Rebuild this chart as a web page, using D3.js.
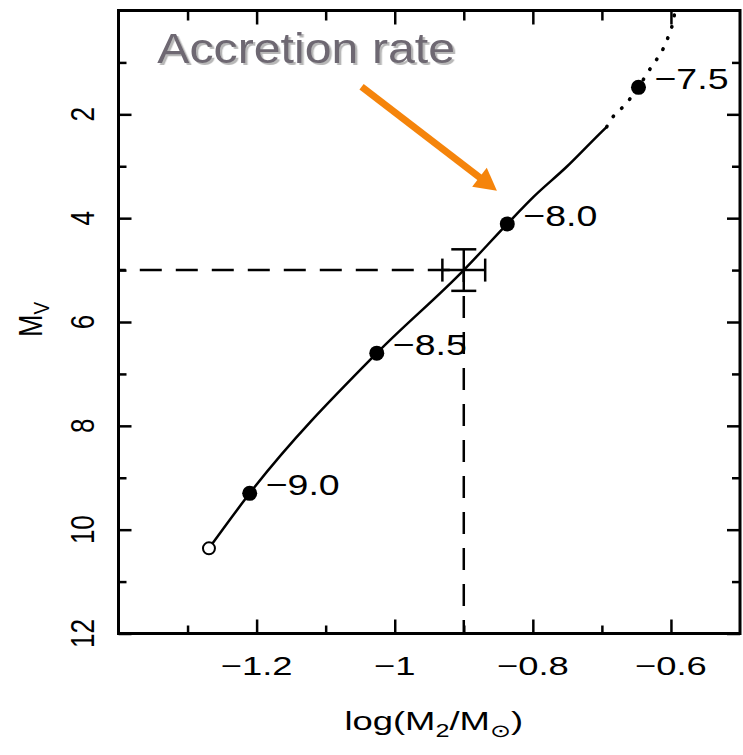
<!DOCTYPE html>
<html>
<head>
<meta charset="utf-8">
<script src="https://cdn.jsdelivr.net/npm/d3@7"></script>
<style>
  body { margin: 0; background: #fff; }
  text { font-family: "Liberation Sans", Arial, Helvetica, sans-serif; }
</style>
</head>
<body>
<svg id="chart" width="743" height="755"></svg>
<script>
// Values.
var xMajor = [-1.2, -1, -0.8, -0.6];
var xMajorLabels = ['\u22121.2', '\u22121', '\u22120.8', '\u22120.6'];
var xMinor = [-1.3, -1.1, -0.9, -0.7];
var yMajor = [2, 4, 6, 8, 10, 12];
var yMinor = [1, 3, 5, 7, 9, 11];

// Track of the model, solid part then dotted part.
var trackSolid = [[-1.269, 10.36], [-1.21, 9.30], [-1.026, 6.60], [-0.90, 5.00],
                  [-0.837, 4.11], [-0.799, 3.59], [-0.751, 3.01], [-0.703, 2.37],
                  [-0.693, 2.24]];
var trackDotted = [[-0.693, 2.24], [-0.684, 2.05], [-0.669, 1.85], [-0.647, 1.48],
                   [-0.633, 1.18], [-0.621, 0.95], [-0.611, 0.73], [-0.604, 0.51],
                   [-0.597, 0.22], [-0.594, 0.0]];

// log accretion rate marks.
var rateLabels = ['\u22127.5', '\u22128.0', '\u22128.5', '\u22129.0'];
var rateX = [-0.647, -0.837, -1.026, -1.21];
var rateY = [1.48, 4.11, 6.60, 9.30];
var trackEnd = [-1.269, 10.36];

// Observed system with error bars.
var obsX = -0.90, obsY = 5.0, obsXErr = 0.031, obsYErr = 0.40;

// Annotation (in data units).
var noteText = 'Accretion rate';
var notePos = [-1.344, 1.02];
var arrowFrom = [-1.048, 1.47];
var arrowTo = [-0.852, 3.47];

var margin = {top: 10.5, right: 3, bottom: 121.5, left: 118.5};
var width = 743 - margin.left - margin.right;
var height = 755 - margin.top - margin.bottom;

var svg = d3.select('#chart');

// Soft shadow for the annotation text.
svg.append('defs').append('filter')
    .attr('id', 'shadow')
    .attr('x', '-5%').attr('y', '-20%')
    .attr('width', '115%').attr('height', '150%')
  .append('feDropShadow')
    .attr('dx', 2).attr('dy', 2)
    .attr('stdDeviation', 0.6)
    .attr('flood-color', '#b8b8b8')
    .attr('flood-opacity', 1);

var g = svg.append('g')
    .attr('transform', 'translate(' + margin.left + ',' + margin.top + ')');

var x = d3.scaleLinear().domain([-1.4, -0.5]).range([0, width]);
var y = d3.scaleLinear().domain([0, 12]).range([0, height]);

// Inward ticks on all four sides.
function addTicks(axis, values, size, transform) {
  var a = g.append('g')
      .attr('transform', transform)
      .call(axis.tickValues(values).tickSize(-size).tickSizeOuter(0).tickFormat(''));
  a.select('.domain').remove();
  a.selectAll('line').attr('stroke', '#000').attr('stroke-width', 2.5);
}
addTicks(d3.axisBottom(x), xMajor, 14, 'translate(0,' + height + ')');
addTicks(d3.axisBottom(x), xMinor, 8, 'translate(0,' + height + ')');
addTicks(d3.axisTop(x), xMajor, 14, 'translate(0,0)');
addTicks(d3.axisTop(x), xMinor, 10, 'translate(0,0)');
addTicks(d3.axisLeft(y), yMajor, 13, 'translate(0,0)');
addTicks(d3.axisLeft(y), yMinor, 8, 'translate(0,0)');
addTicks(d3.axisRight(y), yMajor, 13, 'translate(' + width + ',0)');
addTicks(d3.axisRight(y), yMinor, 8, 'translate(' + width + ',0)');

// Tick labels (the figure is stretched sideways, so is the text).
g.selectAll('.xlab')
  .data(xMajor)
  .enter().append('text')
    .attr('class', 'xlab')
    .attr('transform', function(d) {
      return 'translate(' + x(d) + ',' + (height + 41) + ') scale(1.4,1)';
    })
    .attr('text-anchor', 'middle')
    .attr('font-size', 26)
    .text(function(d, i) { return xMajorLabels[i]; });

g.selectAll('.ylab')
  .data(yMajor)
  .enter().append('text')
    .attr('class', 'ylab')
    .attr('transform', function(d) {
      return 'translate(' + (94 - margin.left) + ',' + y(d) + ') scale(1.25,1) rotate(-90)';
    })
    .attr('text-anchor', 'middle')
    .attr('font-size', 26)
    .text(function(d) { return d; });

// Axis titles.
var xt = g.append('text')
    .attr('transform', 'translate(' + (x(-0.9) - 30) + ',' + (height + 96) + ') scale(1.4,1)')
    .attr('text-anchor', 'middle')
    .attr('font-size', 26);
xt.append('tspan').text('log(M');
xt.append('tspan').attr('font-size', 18).attr('dy', 7).text('2');
xt.append('tspan').attr('dy', -7).text('/M');
xt.append('tspan').attr('font-size', 18).attr('dy', 7)
    .attr('font-family', '"DejaVu Sans", sans-serif').text('\u2299');
xt.append('tspan').attr('dy', -7).text(')');

var yt = g.append('text')
    .attr('transform', 'translate(' + (42 - margin.left) + ',' + y(5.95) + ') scale(1.2,1) rotate(-90)')
    .attr('text-anchor', 'middle')
    .attr('font-size', 27);
yt.append('tspan').text('M');
yt.append('tspan').attr('font-size', 19).attr('dy', 6).text('V');

// Dashed guides to the observed point.
g.append('line')
    .attr('x1', x(obsX)).attr('y1', y(obsY))
    .attr('x2', x(-1.4)).attr('y2', y(obsY))
    .attr('stroke', '#000').attr('stroke-width', 2.5)
    .attr('stroke-dasharray', '22,14').attr('stroke-dashoffset', 22);
g.append('line')
    .attr('x1', x(obsX)).attr('y1', y(obsY))
    .attr('x2', x(obsX)).attr('y2', y(12))
    .attr('stroke', '#000').attr('stroke-width', 2.5)
    .attr('stroke-dasharray', '22,14').attr('stroke-dashoffset', 10);

// Track.
var line = d3.line()
    .x(function(d) { return x(d[0]); })
    .y(function(d) { return y(d[1]); })
    .curve(d3.curveMonotoneX);

g.append('path')
    .datum(trackSolid)
    .attr('d', line)
    .attr('fill', 'none')
    .attr('stroke', '#000')
    .attr('stroke-width', 2.5);

g.append('path')
    .datum(trackDotted)
    .attr('d', line)
    .attr('fill', 'none')
    .attr('stroke', '#000')
    .attr('stroke-width', 3.6)
    .attr('stroke-linecap', 'round')
    .attr('stroke-dasharray', '0.5,11.5');

// Error bars.
var eb = g.append('g').attr('stroke', '#000').attr('stroke-width', 2.5);
eb.append('line')
    .attr('x1', x(obsX - obsXErr)).attr('x2', x(obsX + obsXErr))
    .attr('y1', y(obsY)).attr('y2', y(obsY));
eb.append('line')
    .attr('x1', x(obsX)).attr('x2', x(obsX))
    .attr('y1', y(obsY - obsYErr)).attr('y2', y(obsY + obsYErr));
[obsX - obsXErr, obsX + obsXErr].forEach(function(v) {
  eb.append('line')
      .attr('x1', x(v)).attr('x2', x(v))
      .attr('y1', y(obsY) - 11.5).attr('y2', y(obsY) + 11.5);
});
[obsY - obsYErr, obsY + obsYErr].forEach(function(v) {
  eb.append('line')
      .attr('x1', x(obsX) - 12.5).attr('x2', x(obsX) + 12.5)
      .attr('y1', y(v)).attr('y2', y(v));
});

// Rate marks and their labels.
g.selectAll('.rate')
  .data(rateX)
  .enter().append('circle')
    .attr('class', 'rate')
    .attr('cx', function(d) { return x(d); })
    .attr('cy', function(d, i) { return y(rateY[i]); })
    .attr('r', 7.5)
    .attr('fill', '#000');

g.selectAll('.ratelab')
  .data(rateX)
  .enter().append('text')
    .attr('class', 'ratelab')
    .attr('transform', function(d, i) {
      return 'translate(' + (x(d) + 16) + ',' + (y(rateY[i]) + 2) + ') scale(1.25,1)';
    })
    .attr('font-size', 30)
    .text(function(d, i) { return rateLabels[i]; });

g.append('circle')
    .attr('cx', x(trackEnd[0]))
    .attr('cy', y(trackEnd[1]))
    .attr('r', 6)
    .attr('fill', '#fff')
    .attr('stroke', '#000')
    .attr('stroke-width', 2);

// Frame.
g.append('rect')
    .attr('width', width)
    .attr('height', height)
    .attr('fill', 'none')
    .attr('stroke', '#000')
    .attr('stroke-width', 3);

// Annotation.
g.append('text')
    .attr('transform', 'translate(' + x(notePos[0]) + ',' + y(notePos[1]) + ') scale(1.15,1)')
    .attr('font-size', 42)
    .attr('fill', '#6e6872')
    .attr('filter', 'url(#shadow)')
    .text(noteText);

var ax0 = x(arrowFrom[0]), ay0 = y(arrowFrom[1]);
var ax1 = x(arrowTo[0]), ay1 = y(arrowTo[1]);
var ang = Math.atan2(ay1 - ay0, ax1 - ax0);
var headLen = 22, headHalf = 12;
var bx = ax1 - headLen * Math.cos(ang), by = ay1 - headLen * Math.sin(ang);
g.append('line')
    .attr('x1', ax0).attr('y1', ay0)
    .attr('x2', bx + 2 * Math.cos(ang)).attr('y2', by + 2 * Math.sin(ang))
    .attr('stroke', '#f5840b')
    .attr('stroke-width', 7);
g.append('path')
    .attr('d', 'M' + ax1 + ',' + ay1 +
               'L' + (bx - headHalf * Math.sin(ang)) + ',' + (by + headHalf * Math.cos(ang)) +
               'L' + (bx + headHalf * Math.sin(ang)) + ',' + (by - headHalf * Math.cos(ang)) + 'Z')
    .attr('fill', '#f5840b');
</script>
</body>
</html>
